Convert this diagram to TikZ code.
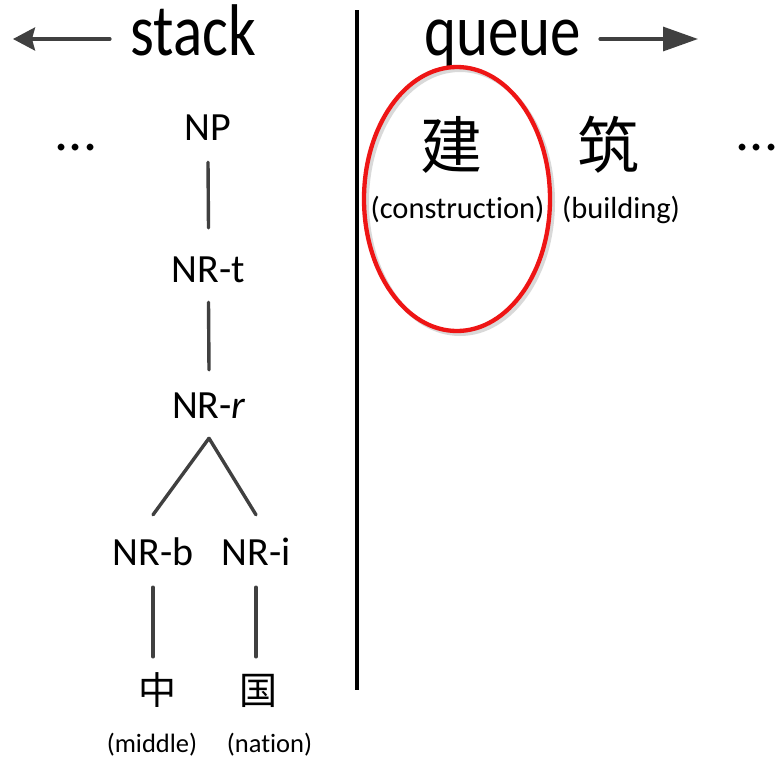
\documentclass[tikz,border=0pt]{standalone}
\usepackage{fontspec}
\setmainfont{Carlito}[RawFeature={-liga,-clig,-calt,-dlig}]
\newfontfamily\cjk{Noto Sans CJK SC}
\usetikzlibrary{arrows.meta,calc}
\definecolor{linegray}{HTML}{404040}
\definecolor{ringred}{HTML}{EE1515}

\begin{document}
\begin{tikzpicture}[x=1pt,y=-1pt,
  treenode/.style={font=\fontsize{40}{40}\selectfont, text height=27pt, text depth=0pt, inner sep=0pt, anchor=base},
  heading/.style={font=\fontsize{61}{61}\selectfont, inner sep=0pt, anchor=base},
  gloss/.style={font=\fontsize{30.5}{30.5}\selectfont, inner sep=0pt, anchor=base},
  smallgloss/.style={font=\fontsize{26.5}{26.5}\selectfont, inner sep=0pt, anchor=base},
  bigchar/.style={font=\cjk\fontsize{62}{62}\selectfont, text height=53.6pt, text depth=6.4pt, inner sep=0pt},
  smallchar/.style={font=\cjk\fontsize{38}{38}\selectfont, text height=33.4pt, text depth=4.6pt, inner sep=0pt},
  dots/.style={font=\fontsize{56}{56}\selectfont, inner sep=0pt, anchor=base},
  branch/.style={draw=linegray, line width=3.4pt, line cap=round},
  dirarrow/.style={draw=linegray, line width=3.2pt, line cap=round},
]
\useasboundingbox (0,0) rectangle (779,761);

% headings with direction arrows
\node[heading] (stack) at (193.5,55) {\scalebox{1}[1.2]{stack}};
\node[heading] (queue) at (502.5,55) {\scalebox{1}[1.2]{queue}};
\coordinate (stackfrom) at (110,39);
\coordinate (stackto) at (13,39);
\coordinate (queuefrom) at (600,39);
\coordinate (queueto) at (698,39);
\draw[dirarrow, -{Stealth[length=22pt,width=23pt,inset=3pt]}] (stackfrom) -- (stackto);
\draw[dirarrow, -{Triangle[length=35pt,width=24pt]}] (queuefrom) -- (queueto);

% divider between stack and queue
\coordinate (divtop) at (357,10);
\coordinate (divbot) at (357,690);
\draw[line width=4.5pt] (divtop) -- (divbot);

% stack: partial tree
\node[dots] (ldots) at (76,150) {...};
\node[treenode] (np)  at (208,140) {NP};
\node[treenode] (nrt) at (208.5,282) {NR-t};
\node[treenode] (nrr) at (209,418) {NR-\textit{r}};
\node[treenode] (nrb) at (153,565) {NR-b};
\node[treenode] (nri) at (256,565) {NR-i};
\node[smallchar] (zhong) at (157,690) {中};
\node[smallchar] (guo)   at (258,690) {国};
\node[smallgloss] (middle) at (152,752) {(middle)};
\node[smallgloss] (nation) at (269.5,752) {(nation)};

\draw[branch] ([yshift=-22pt]np.south) -- ([yshift=27pt]nrt.north);
\draw[branch] ([yshift=-20pt]nrt.south) -- ([yshift=21pt]nrr.north);
\draw[branch] ([yshift=-20pt]nrr.south) -- ([yshift=23pt]nrb.north);
\draw[branch] ([yshift=-20pt]nrr.south) -- ([yshift=23pt]nri.north);
\draw[branch] ([yshift=-22pt]nrb.south) -- ($(zhong.north -| nrb.south)+(0,-14)$);
\draw[branch] ([yshift=-22pt]nri.south) -- ($(guo.north -| nri.south)+(0,-14)$);

% queue: incoming words
\draw[gray!30, line width=4pt] (460,202) ellipse [x radius=93pt, y radius=132pt];
\node[bigchar] (jian) at (451,145) {建};
\node[bigchar] (zhu)  at (608,145) {筑};
\node[gloss] (construction) at (457.5,218) {(construc\kern0pt tion)};
\node[gloss] (building) at (621,218) {(building)};
\node[dots] (rdots) at (757,150) {...};
\draw[ringred, line width=4.3pt] (457,199) ellipse [x radius=93pt, y radius=132pt];

\end{tikzpicture}
\end{document}
